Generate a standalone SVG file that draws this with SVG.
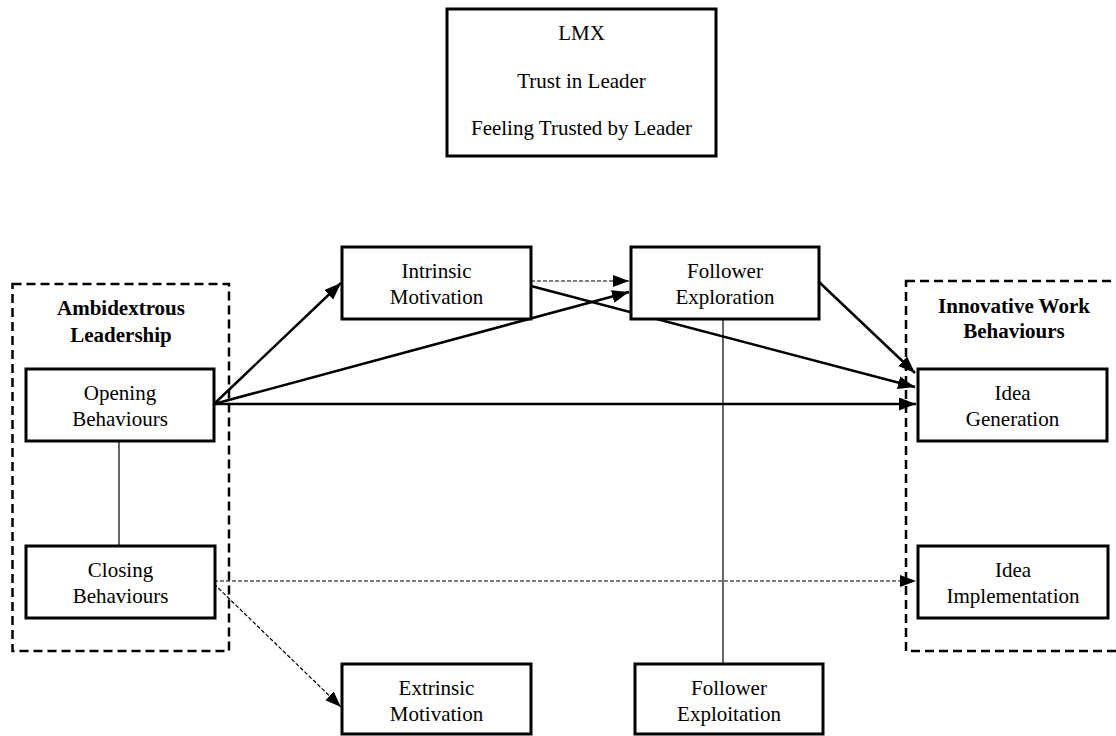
<svg xmlns="http://www.w3.org/2000/svg" width="1116" height="736" viewBox="0 0 1116 736">
  <defs>
    <marker id="head" markerUnits="userSpaceOnUse" markerWidth="18" markerHeight="14" refX="17" refY="6.5" orient="auto">
      <path d="M0,0 L17,6.5 L0,13 z" fill="#000"/>
    </marker>
    <marker id="headThin" markerUnits="userSpaceOnUse" markerWidth="18" markerHeight="14" refX="16" refY="6" orient="auto">
      <path d="M0,0 L16,6 L0,12 z" fill="#000"/>
    </marker>
  </defs>
  <style>
    .box { fill: #fff; stroke: #000; stroke-width: 3; }
    .group { fill: none; stroke: #000; stroke-width: 2.5; stroke-dasharray: 9 5; }
    text { font-family: "Liberation Serif", "Times New Roman", serif; font-size: 21px; fill: #000; text-anchor: middle; }
    .bold { font-weight: bold; }
    .solid { fill: none; stroke: #000; stroke-width: 2.5; marker-end: url(#head); }
    .dashed { fill: none; stroke: #000; stroke-width: 1.2; stroke-dasharray: 4 2; marker-end: url(#headThin); }
    .link { fill: none; stroke: #000; stroke-width: 1.2; }
  </style>
  <rect width="1116" height="736" fill="#fff"/>

  <!-- grouping frames -->
  <g id="ambidextrous-leadership">
    <rect class="group" x="12.5" y="284" width="216.5" height="367"/>
    <text class="bold" x="121" y="315">Ambidextrous</text>
    <text class="bold" x="121" y="342">Leadership</text>
  </g>
  <g id="innovative-work-behaviours">
    <rect class="group" x="906" y="281" width="214" height="370"/>
    <text class="bold" x="1014" y="313">Innovative Work</text>
    <text class="bold" x="1014" y="338">Behaviours</text>
  </g>

  <!-- connectors -->
  <g id="connectors">
    <path class="link" d="M119,441 L119,546"/>
    <path class="link" d="M723,319 L723,664"/>
    <path class="solid" d="M214,404 L341,283"/>
    <path class="solid" d="M214,404 L629,292"/>
    <path class="solid" d="M214,404 L916,404"/>
    <path class="solid" d="M531,286 L915,387"/>
    <path class="solid" d="M819,282 L915,373"/>
    <path class="dashed" d="M531,281 L629,281"/>
    <path class="dashed" d="M214,581 L916,581"/>
    <path class="dashed" d="M214,584 L341,707"/>
  </g>

  <!-- nodes -->
  <g id="moderators">
    <rect class="box" x="447" y="9" width="269" height="147"/>
    <text x="581.5" y="40">LMX</text>
    <text x="581.5" y="88">Trust in Leader</text>
    <text x="581.5" y="135">Feeling Trusted by Leader</text>
  </g>
  <g id="opening-behaviours">
    <rect class="box" x="26" y="369" width="188" height="72"/>
    <text x="120" y="400">Opening</text>
    <text x="120" y="426">Behaviours</text>
  </g>
  <g id="closing-behaviours">
    <rect class="box" x="26" y="546" width="189" height="72"/>
    <text x="120.5" y="577">Closing</text>
    <text x="120.5" y="603">Behaviours</text>
  </g>
  <g id="intrinsic-motivation">
    <rect class="box" x="342" y="247" width="189" height="72"/>
    <text x="436.5" y="278">Intrinsic</text>
    <text x="436.5" y="304">Motivation</text>
  </g>
  <g id="follower-exploration">
    <rect class="box" x="631" y="247" width="188" height="72"/>
    <text x="725" y="278">Follower</text>
    <text x="725" y="304">Exploration</text>
  </g>
  <g id="idea-generation">
    <rect class="box" x="918" y="369" width="189" height="72"/>
    <text x="1012.5" y="400">Idea</text>
    <text x="1012.5" y="426">Generation</text>
  </g>
  <g id="idea-implementation">
    <rect class="box" x="918" y="546" width="190" height="72"/>
    <text x="1013" y="577">Idea</text>
    <text x="1013" y="603">Implementation</text>
  </g>
  <g id="extrinsic-motivation">
    <rect class="box" x="342" y="664" width="189" height="70"/>
    <text x="436.5" y="695">Extrinsic</text>
    <text x="436.5" y="721">Motivation</text>
  </g>
  <g id="follower-exploitation">
    <rect class="box" x="635" y="664" width="188" height="70"/>
    <text x="729" y="695">Follower</text>
    <text x="729" y="721">Exploitation</text>
  </g>
</svg>
